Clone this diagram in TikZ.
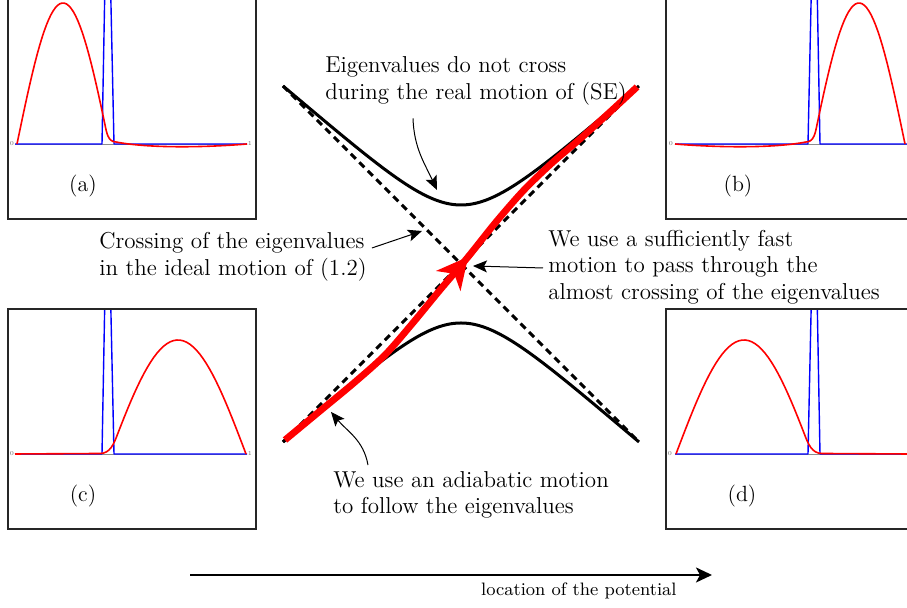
\documentclass[tikz,border=0pt]{standalone}
\usepackage{tikz}
\usetikzlibrary{arrows.meta,calc,positioning,decorations.markings}

\begin{document}
\begin{tikzpicture}[
    x=0.5pt,y=0.5pt,
    note/.style={align=left,inner sep=0pt,font=\fontsize{11.5}{13.2}\selectfont},
    tag/.style={inner sep=0pt,font=\fontsize{11}{13}\selectfont},
    axistick/.style={inner sep=0pt,font=\fontsize{3}{3}\selectfont,text=black!60},
    panelbox/.style={draw=black!85,line width=1pt},
    baseaxis/.style={black!45,line width=0.4pt},
    redwave/.style={red,line width=0.8pt,line join=round},
    bluewave/.style={blue,line width=0.7pt,line join=round},
    eigen/.style={line width=1.5pt},
    crossline/.style={line width=1.5pt,dash pattern=on 3.5pt off 2.5pt},
    redpath/.style={red,line width=3.4pt,postaction={decorate},
        decoration={markings,mark=at position 0.52 with {\arrow{Stealth[length=15.5pt,width=15.5pt,inset=4.5pt]}}}},
    pointer/.style={-{Stealth[length=7pt,width=6pt,inset=1.5pt]},line width=0.5pt},
    axisarrow/.style={-{Stealth[length=8pt,width=7.5pt,inset=2pt]},line width=1pt}
]
\useasboundingbox (0,0) rectangle (907,608);
\clip (0,0) rectangle (907,608);

% Snapshots of the wave functions (a) and (b)
\foreach \cx/\flip in {132/1,790/-1}{
  \begin{scope}[shift={(\cx,464)}]
    \begin{scope}[xscale=\flip]
      \clip (-124,-75) rectangle (124,250);
      \draw[baseaxis] (-117,0) -- (115,0);
      \draw[bluewave] (-117,0) -- (-30,0) -- (-24.5,300) -- (-18,0) -- (115,0);
      \draw[redwave] plot[domain=0:172,samples=40] ({-115+0.5111*\x},{141*sin(\x)})
        to[out=-78,in=180] (-16,2) .. controls (20,-5) and (80,-3) .. (115,0);
    \end{scope}
    \draw[panelbox] (-124,-75) rectangle (124,250);
  \end{scope}
}

% Snapshots of the wave functions (c) and (d)
\foreach \cx/\flip in {132/1,790/-1}{
  \begin{scope}[shift={(\cx,154)}]
    \begin{scope}[xscale=\flip]
      \clip (-124,-75) rectangle (124,145);
      \draw[baseaxis] (-117,0) -- (115,0);
      \draw[bluewave] (-117,0) -- (-30,0) -- (-24.5,300) -- (-18,0) -- (115,0);
      \draw[redwave] (-117,0) -- (-32,0.5) to[out=0,in=249] (-14.44,19.8)
        plot[domain=10:180,samples=40] ({-22+0.7556*\x},{114*sin(\x)});
    \end{scope}
    \draw[panelbox] (-124,-75) rectangle (124,145);
  \end{scope}
}

\node[tag] (laba) at (83,422) {(a)};
\node[tag] (labb) at (738,422) {(b)};
\node[tag] (labc) at (83,112) {(c)};
\node[tag] (labd) at (742,112) {(d)};
\node[axistick] (zeroa) at (12,464) {0};
\node[axistick] (onea) at (250,464) {1};
\node[axistick] (zerob) at (671,464) {0};
\node[axistick] (zeroc) at (12,154) {0};
\node[axistick] (onec) at (250,154) {1};
\node[axistick] (zerod) at (670,154) {0};

% Ideal crossing and real avoided crossing
\draw[crossline] (283,522) -- (639,166);
\draw[crossline] (283,166) -- (639,522);
\draw[eigen] plot[domain=-178:178,samples=81,smooth] ({461+\x},{344+100*(sqrt(pow(\x/100,2)+0.3481)-0.0952*pow(\x/178,2))});
\draw[eigen] plot[domain=-178:178,samples=81,smooth] ({461+\x},{344-100*(sqrt(pow(\x/100,2)+0.3481)-0.0952*pow(\x/178,2))});
\draw[redpath] plot[smooth] coordinates {(285,168) (320,197) (355,226) (385,253) (412,284) (440,318) (468,351)
    (496,386) (524,418) (552,445) (580,469) (610,496) (637,521)};

% Comments
\node[note,anchor=west] (notereal) at (325,527) {Eigenvalues do not cross\\during the real motion of (SE)};
\node[note,anchor=west] (noteideal) at (99,351) {Crossing of the eigenvalues\\in the ideal motion of (1.2)};
\node[note,anchor=west] (notefast) at (548,341) {We use a sufficiently fast\\motion to pass through the\\almost crossing of the eigenvalues};
\node[note,anchor=west] (noteadiab) at (333,113) {We use an adiabatic motion\\to follow the eigenvalues};

\coordinate (gapmin) at (437,418);
\coordinate (idealx) at (422,377);
\coordinate (nearx) at (473,342);
\coordinate (adiabx) at (331,196);
\draw[pointer] ([shift={(88,-13)}]notereal.south west) to[out=-88,in=115] (gapmin);
\draw[pointer] ([shift={(5,9)}]noteideal.east) -- (idealx);
\draw[pointer] ([shift={(-5,-1)}]notefast.west) -- (nearx);
\draw[pointer] ([shift={(35,6)}]noteadiab.north west) to[out=100,in=-50] (adiabx);

% Direction of the motion
\coordinate (xfrom) at (190,33);
\coordinate (xto) at (712,33);
\draw[axisarrow] (xfrom) -- (xto);
\node[inner sep=0pt,anchor=east,font=\fontsize{9}{11}\selectfont] (xlabel) at (677,17) {location of the potential};
\end{tikzpicture}
\end{document}
